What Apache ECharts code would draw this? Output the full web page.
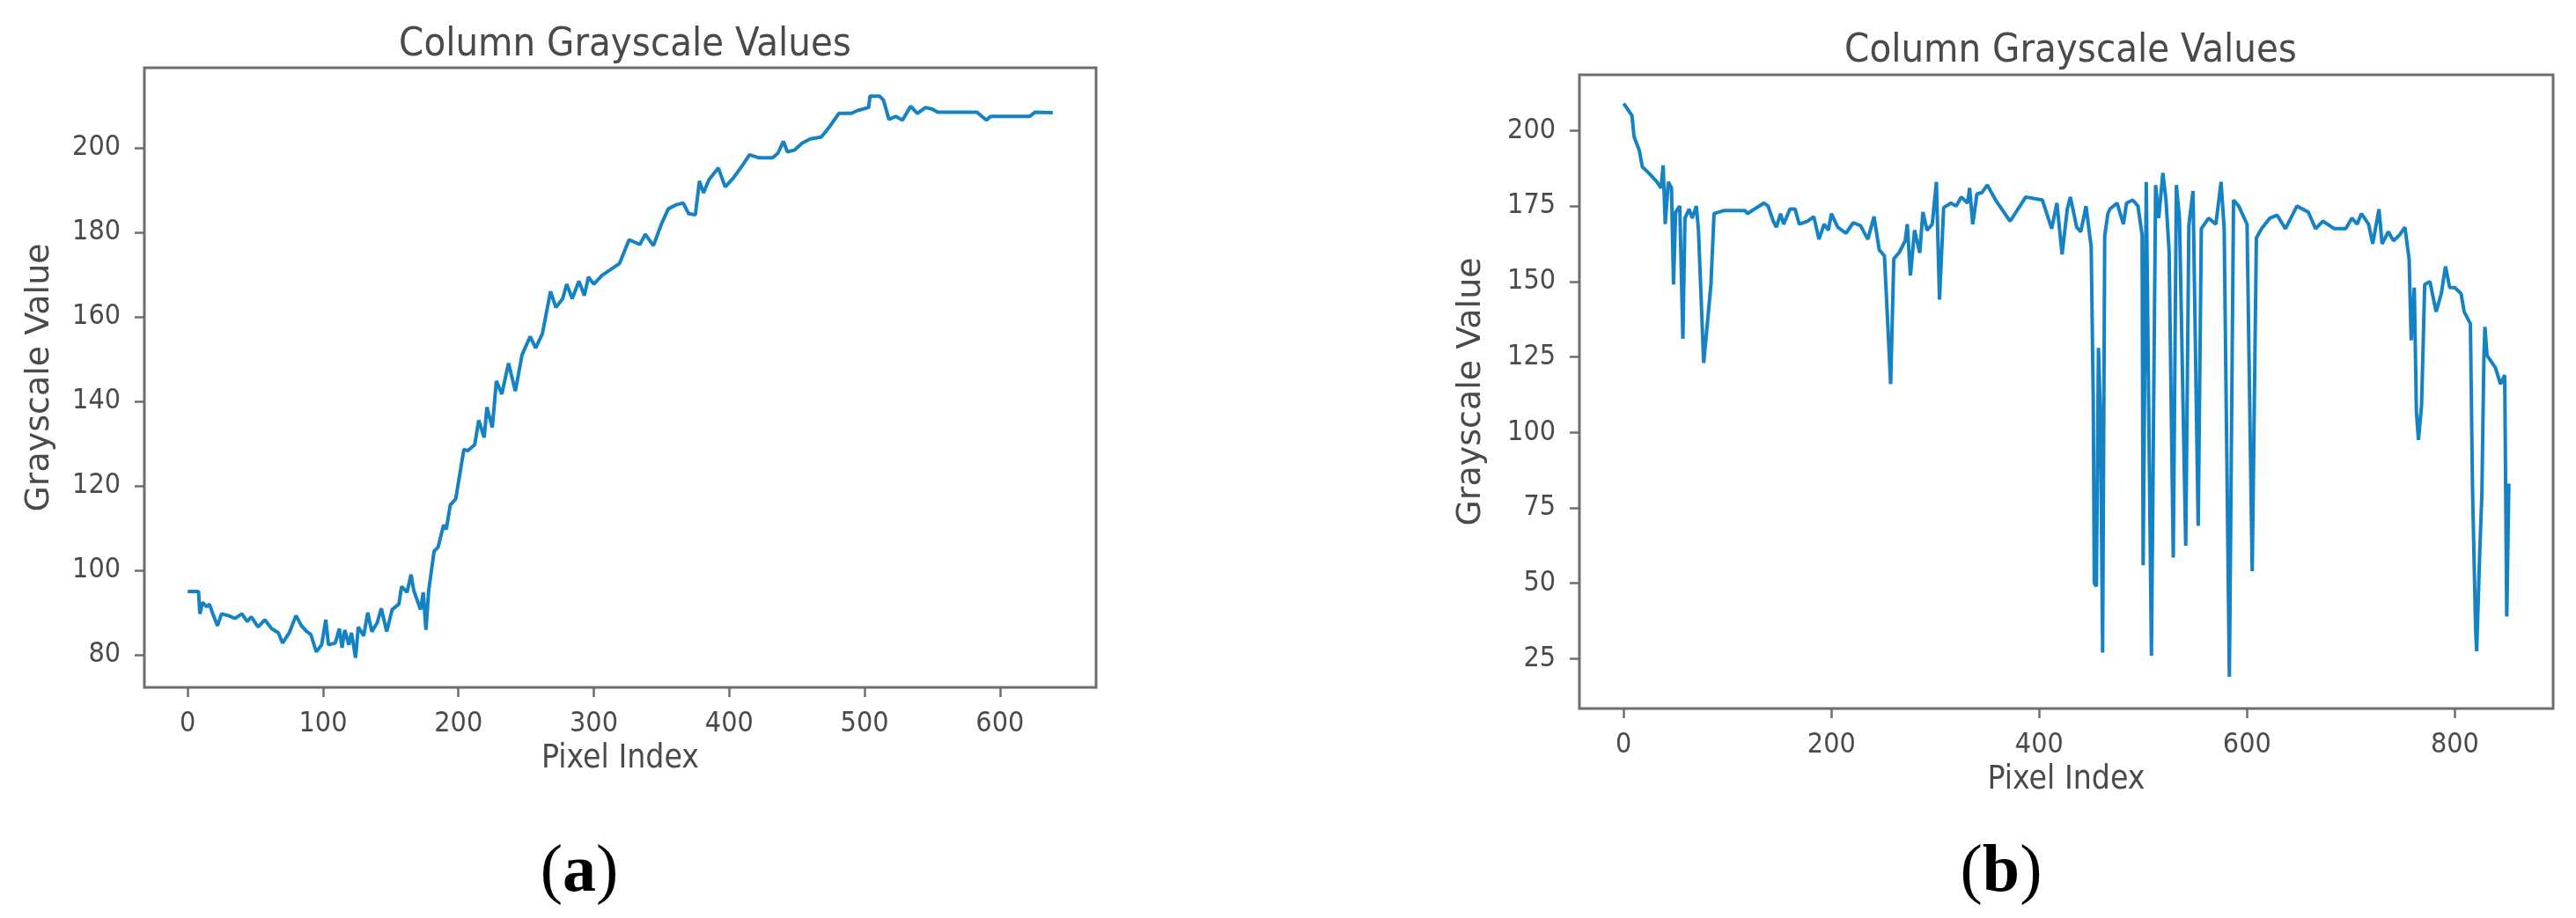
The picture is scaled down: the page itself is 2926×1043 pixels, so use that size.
<!DOCTYPE html>
<html>
<head>
<meta charset="utf-8">
<title>Column Grayscale Values</title>
<script src="https://cdn.jsdelivr.net/npm/echarts@6/dist/echarts.min.js"></script>
<style>
  html, body { margin: 0; padding: 0; background: #ffffff; }
  #chart { width: 2926px; height: 1043px; }
</style>
</head>
<body>
<div id="chart"></div>
<script>
// ---------- Data ----------
const chartTitle = 'Column Grayscale Values';
const xAxisName = 'Pixel Index';
const yAxisName = 'Grayscale Value';
const panelLetters = ['a', 'b'];

// Panel (a)
const pixelIndexA = [0, 8, 9, 11, 14, 16, 19, 22, 25, 30, 35, 40, 44, 47, 52, 57, 62, 67, 70, 75, 80, 84, 88, 91, 95, 99, 102, 104, 109, 112, 114, 116, 119, 121, 124, 126, 130, 133, 136, 140, 143, 147, 151, 156, 158, 162, 165, 167, 172, 174, 176, 178, 182, 185, 189, 191, 194, 198, 204, 207, 212, 215, 219, 221, 225, 228, 232, 237, 242, 247, 253, 257, 262, 268, 272, 277, 280, 284, 289, 293, 296, 300, 306, 319, 326, 334, 338, 344, 350, 355, 361, 366, 370, 375, 378, 381, 385, 392, 397, 403, 410, 415, 422, 432, 436, 440, 443, 448, 454, 460, 468, 474, 481, 490, 495, 503, 504, 511, 514, 518, 523, 528, 534, 539, 545, 550, 554, 583, 590, 593, 622, 626, 639];
const grayA = [95, 95, 89.7, 92.4, 91.4, 92, 89.3, 86.9, 89.7, 89.3, 88.6, 89.7, 87.9, 89, 86.6, 88.3, 86.2, 85.2, 82.8, 85.2, 89.3, 86.9, 85.5, 84.8, 80.7, 82.4, 88.3, 82.4, 82.8, 86.2, 81.7, 85.9, 82.4, 85.2, 79.3, 86.6, 84.5, 90, 85.5, 87.6, 91, 85.5, 90.7, 92, 96.2, 94.8, 99, 95.2, 90.7, 94.8, 85.9, 95.2, 104.5, 105.5, 110.7, 109.7, 115.5, 116.9, 128.6, 128.3, 129.7, 135.5, 131.4, 138.6, 133.8, 144.8, 141.7, 149, 142.4, 151, 155.3, 152.6, 156, 166, 162.2, 164.3, 167.7, 164.3, 168.4, 165, 169.4, 167.7, 169.8, 172.6, 178.2, 177.1, 179.5, 176.8, 182, 185.5, 186.5, 186.9, 184.4, 184.1, 192.1, 189.3, 192.4, 195.2, 190.7, 192.8, 195.9, 198.3, 197.6, 197.6, 198.7, 201.5, 199, 199.4, 201.1, 202.1, 202.5, 204.9, 208.1, 208.1, 208.8, 209.5, 212.2, 212.2, 211.2, 206.7, 207.4, 206.5, 209.8, 208.1, 209.5, 209.1, 208.4, 208.4, 206.5, 207.4, 207.4, 208.4, 208.3];
const xTicksA = [0, 100, 200, 300, 400, 500, 600];
const yTicksA = [80, 100, 120, 140, 160, 180, 200];

// Panel (b)
const pixelIndexB = [0, 4, 8, 10, 15, 18, 24, 32, 36, 38, 40, 43, 46, 48, 50, 54, 57, 59, 63, 66, 70, 72, 77, 80, 84, 87, 96, 117, 119, 135, 139, 144, 147, 151, 154, 160, 165, 169, 177, 183, 188, 193, 197, 200, 206, 214, 221, 228, 235, 241, 246, 251, 257, 260, 265, 271, 273, 276, 280, 285, 288, 292, 297, 301, 304, 308, 315, 320, 325, 331, 333, 336, 340, 345, 350, 358, 372, 387, 403, 412, 417, 422, 427, 430, 436, 440, 445, 450, 452, 453, 455, 457, 459, 461, 463, 466, 468, 475, 481, 484, 490, 495, 499, 500, 503, 508, 512, 515, 519, 522, 525, 529, 532, 535, 541, 544, 548, 553, 556, 563, 570, 575, 578, 583, 587, 592, 600, 605, 609, 614, 622, 629, 637, 648, 659, 666, 673, 684, 695, 701, 706, 710, 717, 721, 727, 730, 736, 741, 747, 752, 756, 758, 761, 763, 765, 768, 771, 776, 782, 787, 791, 795, 800, 806, 809, 815, 817, 818, 820, 821, 824, 826, 828, 829, 831, 839, 844, 848, 850, 852];
const grayB = [209, 207, 205, 198, 193.5, 188, 186, 183, 181, 188.5, 169, 183, 181, 149, 173, 175, 131, 171, 174, 171, 175, 167, 123, 134, 149, 172.5, 173.5, 173.5, 172.5, 176, 175, 170, 168, 172.5, 169, 174, 174, 169, 170, 171.5, 164, 169, 167, 172.5, 168, 166, 169.5, 168.5, 164, 171.5, 160.5, 158.5, 116, 157.5, 159.5, 163.5, 169, 152, 167, 159.5, 173, 167, 169, 183, 144, 174.5, 176, 175, 178, 176, 181, 169, 179, 179.5, 182, 177, 170, 178, 177, 167.5, 176, 159, 174, 178, 168, 166.5, 175, 161.5, 110, 50, 49, 128, 105, 27, 165, 172.5, 174, 176, 169, 176, 177, 175, 165.5, 56, 183, 26, 182, 171, 186, 177, 160, 58.5, 182, 171, 62.5, 168.5, 180, 69, 167.5, 171, 169, 183, 167.5, 19, 177, 175, 169, 54, 164.5, 167.5, 171, 172, 167.5, 175, 173, 167.5, 170, 167.5, 167.5, 171, 169, 172.5, 169, 162.5, 174, 162.5, 166.5, 163.5, 165.5, 168, 157.5, 130.5, 148, 107, 97.5, 109, 149, 150, 140, 146, 155, 148, 148, 146, 140, 136, 82, 66, 35, 27.5, 60.5, 79, 125, 135, 125.5, 121.5, 116, 119, 39, 83];
const xTicksB = [0, 200, 400, 600, 800];
const yTicksB = [25, 50, 75, 100, 125, 150, 175, 200];

// ---------- Styling ----------
const lineColor = '#1582c4';
const axisColor = '#6e6e6e';
const textColor = '#4a4a4a';
const condensed = "'DejaVu Sans Condensed', 'DejaVu Sans', sans-serif";

function zip(xs, ys) { return xs.map((x, i) => [x, ys[i]]); }

function xAxisCfg(gridIndex, min, max, ticks) {
  return {
    type: 'value', gridIndex, min, max, position: 'bottom',
    name: xAxisName, nameLocation: 'middle', nameGap: 60,
    nameTextStyle: { color: textColor, fontSize: 37, fontFamily: condensed },
    axisLine: { show: false, onZero: false },
    axisTick: { show: true, length: 11, customValues: ticks, lineStyle: { color: axisColor, width: 2.5 } },
    axisLabel: { show: true, margin: 26, customValues: ticks, color: textColor, fontSize: 32, fontFamily: condensed },
    splitLine: { show: false }
  };
}
function yAxisCfg(gridIndex, min, max, ticks, gap) {
  return {
    type: 'value', gridIndex, min, max, position: 'left',
    name: yAxisName, nameLocation: 'middle', nameGap: gap, nameRotate: 90,
    nameTextStyle: { color: textColor, fontSize: 38, fontFamily: "'DejaVu Sans', sans-serif" },
    axisLine: { show: false, onZero: false },
    axisTick: { show: true, length: 11, customValues: ticks, lineStyle: { color: axisColor, width: 2.5 } },
    axisLabel: { show: true, margin: 27, customValues: ticks, color: textColor, fontSize: 32, fontFamily: condensed },
    splitLine: { show: false }
  };
}

function panelLabel(letter, x) {
  return {
    type: 'text', x: x, y: 992,
    style: {
      text: '{p|(}{l|' + letter + '}{p|)}',
      textAlign: 'center', textVerticalAlign: 'middle',
      rich: {
        p: { fontSize: 76, fontFamily: "'Liberation Serif', serif", fill: '#000' },
        l: { fontSize: 76, fontFamily: "'Liberation Serif', serif", fontWeight: 'bold', fill: '#000' }
      }
    }
  };
}

const chart = echarts.init(document.getElementById('chart'), null, { renderer: 'canvas' });
chart.setOption({
  backgroundColor: '#ffffff',
  animation: false,
  title: [
    { text: chartTitle, left: 705, top: 24, textAlign: 'center',
      textStyle: { color: textColor, fontSize: 45, fontWeight: 'normal', fontFamily: condensed } },
    { text: chartTitle, left: 2347, top: 31, textAlign: 'center',
      textStyle: { color: textColor, fontSize: 45, fontWeight: 'normal', fontFamily: condensed } }
  ],
  graphic: [ panelLabel(panelLetters[0], 658), panelLabel(panelLetters[1], 2273) ],
  grid: [
    { left: 164, top: 77, width: 1081, height: 704, show: true, borderColor: axisColor, borderWidth: 3, backgroundColor: '#fff', containLabel: false },
    { left: 1794, top: 85, width: 1106, height: 720, show: true, borderColor: axisColor, borderWidth: 3, backgroundColor: '#fff', containLabel: false }
  ],
  xAxis: [
    xAxisCfg(0, -32, 671, xTicksA),
    xAxisCfg(1, -42.6, 894.6, xTicksB)
  ],
  yAxis: [
    yAxisCfg(0, 72.3, 218.9, yTicksA, 100),
    yAxisCfg(1, 8.5, 218.5, yTicksB, 104)
  ],
  series: [
    { type: 'line', xAxisIndex: 0, yAxisIndex: 0, data: zip(pixelIndexA, grayA), showSymbol: false, symbol: 'none',
      lineStyle: { color: lineColor, width: 4 }, itemStyle: { color: lineColor } },
    { type: 'line', xAxisIndex: 1, yAxisIndex: 1, data: zip(pixelIndexB, grayB), showSymbol: false, symbol: 'none',
      lineStyle: { color: lineColor, width: 4 }, itemStyle: { color: lineColor } }
  ]
});
</script>
</body>
</html>
